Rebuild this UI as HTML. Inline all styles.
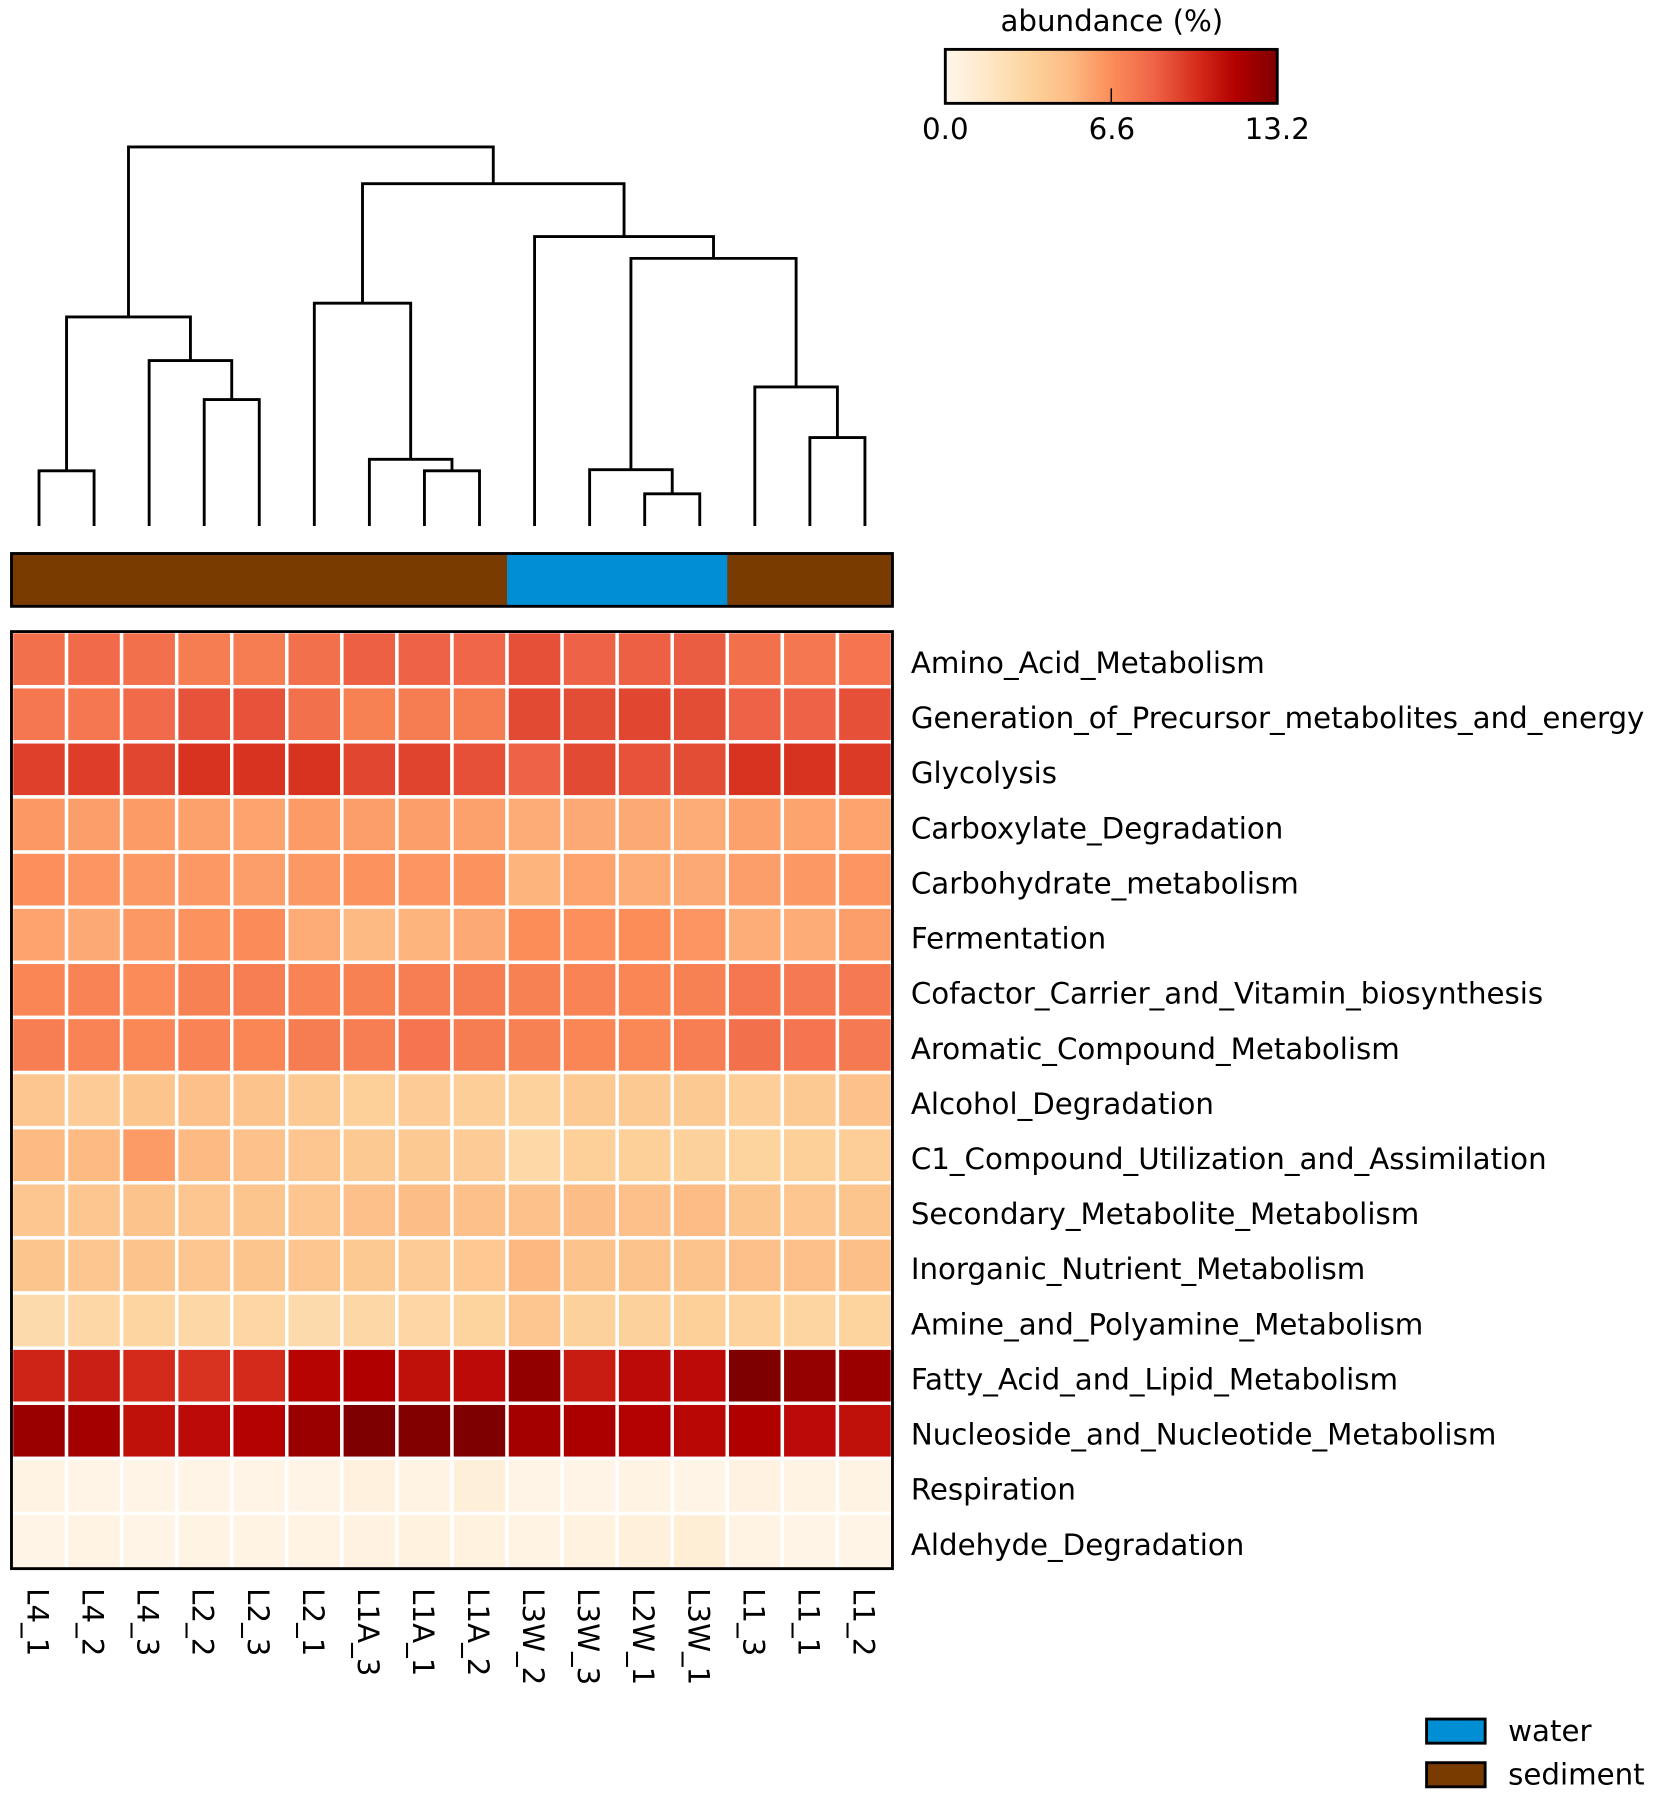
<!DOCTYPE html>
<html><head><meta charset="utf-8"><style>
html,body{margin:0;padding:0;background:#fff;}
svg{display:block;font-family:"DejaVu Sans","Liberation Sans",sans-serif;}
</style></head><body>
<svg id="chart" width="1654" height="1796" viewBox="0 0 1440 1564" preserveAspectRatio="none" xmlns="http://www.w3.org/2000/svg">
<g id="dendro"></g>
<g id="annot"></g>
<g id="cells"></g>
<g id="rowlabels"></g>
<g id="collabels"></g>
<g>
  <defs><linearGradient id="cbg" x1="0" x2="1" y1="0" y2="0">
    <stop offset="0" stop-color="#fff7ec"/><stop offset="0.125" stop-color="#fee8c8"/>
    <stop offset="0.25" stop-color="#fdd49e"/><stop offset="0.375" stop-color="#fdbb84"/>
    <stop offset="0.5" stop-color="#fc8d59"/><stop offset="0.625" stop-color="#ef6548"/>
    <stop offset="0.75" stop-color="#d7301f"/><stop offset="0.875" stop-color="#b30000"/>
    <stop offset="1" stop-color="#7f0000"/></linearGradient></defs>
  <text x="968" y="27" font-size="25.5" text-anchor="middle">abundance (%)</text>
  <rect x="823" y="43" width="289" height="47" fill="url(#cbg)" stroke="#000" stroke-width="2.5"/>
  <line x1="967.5" x2="967.5" y1="77" y2="90" stroke="#000" stroke-width="1.3"/>
  <text x="823" y="121" font-size="25.5" text-anchor="middle">0.0</text>
  <text x="968" y="121" font-size="25.5" text-anchor="middle">6.6</text>
  <text x="1112" y="121" font-size="25.5" text-anchor="middle">13.2</text>
</g>
<g>
  <rect x="1242" y="1497" width="51" height="21" fill="#008fd5" stroke="#000" stroke-width="2.5"/>
  <text x="1313" y="1516" font-size="25.5">water</text>
  <rect x="1242" y="1535" width="51" height="21" fill="#7a3b00" stroke="#000" stroke-width="2.5"/>
  <text x="1313" y="1554" font-size="25.5">sediment</text>
</g>
</svg>
<script>
const samples = ["L4_1","L4_2","L4_3","L2_2","L2_3","L2_1","L1A_3","L1A_1","L1A_2","L3W_2","L3W_3","L2W_1","L3W_1","L1_3","L1_1","L1_2"];
const groups = ["sediment","sediment","sediment","sediment","sediment","sediment","sediment","sediment","sediment","water","water","water","water","sediment","sediment","sediment"];
const pathways = ["Amino_Acid_Metabolism","Generation_of_Precursor_metabolites_and_energy","Glycolysis","Carboxylate_Degradation","Carbohydrate_metabolism","Fermentation","Cofactor_Carrier_and_Vitamin_biosynthesis","Aromatic_Compound_Metabolism","Alcohol_Degradation","C1_Compound_Utilization_and_Assimilation","Secondary_Metabolite_Metabolism","Inorganic_Nutrient_Metabolism","Amine_and_Polyamine_Metabolism","Fatty_Acid_and_Lipid_Metabolism","Nucleoside_and_Nucleotide_Metabolism","Respiration","Aldehyde_Degradation"];
const rowAmino = [7.8,8.0,7.8,7.3,7.3,7.8,8.4,8.3,8.2,8.9,8.3,8.4,8.5,7.8,7.5,7.6];
const rowGeneration = [7.5,7.5,8.0,8.8,8.8,7.8,7.1,7.3,7.3,9.1,9.0,9.2,9.0,8.3,8.3,8.9];
const rowGlycolysis = [9.4,9.5,9.2,9.8,9.8,9.8,9.2,9.3,8.9,8.3,9.1,8.8,9.0,9.8,9.8,9.6];
const rowCarboxylate = [6.2,6.0,6.1,5.9,5.8,6.1,6.0,6.0,5.9,5.5,5.6,5.6,5.5,5.9,5.8,5.8];
const rowCarbohydrate = [6.5,6.3,6.2,6.2,6.0,6.2,6.4,6.3,6.4,5.2,5.8,5.5,5.6,6.0,6.2,6.3];
const rowFermentation = [5.8,5.6,6.2,6.4,6.7,5.5,5.0,5.2,5.6,6.6,6.5,6.6,6.3,5.4,5.5,6.0];
const rowCofactor = [6.9,7.0,6.7,7.1,7.2,7.0,7.1,7.2,7.3,7.1,7.0,6.9,7.1,7.5,7.4,7.4];
const rowAromatic = [7.2,7.0,6.8,7.0,6.9,7.3,7.2,7.6,7.3,7.1,6.9,6.8,7.2,7.8,7.6,7.4];
const rowAlcohol = [4.2,3.9,4.3,4.6,4.4,4.0,3.6,3.8,3.7,3.4,4.0,4.0,4.0,3.7,4.0,4.5];
const rowC1 = [5.0,5.0,6.1,5.0,4.5,4.2,4.0,4.0,3.9,2.9,3.6,3.6,3.5,3.3,3.6,3.7];
const rowSecondary = [4.2,4.2,4.4,4.2,4.3,4.2,4.6,4.8,4.6,4.5,4.8,4.6,4.9,4.3,4.2,4.3];
const rowInorganic = [4.3,4.2,4.4,4.2,4.3,4.2,4.0,3.9,4.1,5.1,4.4,4.4,4.4,4.6,4.6,4.7];
const rowAmine = [2.8,3.0,3.2,3.0,3.1,2.8,3.0,3.1,3.3,4.2,3.5,3.5,3.6,3.4,3.2,3.3];
const rowFatty = [10.3,10.5,10.1,9.8,10.1,11.4,11.6,11.0,11.2,12.6,10.6,11.2,11.2,13.2,12.5,12.3];
const rowNucleoside = [12.3,12.0,11.0,11.2,11.5,12.3,13.2,13.1,13.2,12.0,11.8,11.5,11.3,11.6,11.2,11.0];
const rowRespiration = [0.4,0.3,0.3,0.3,0.3,0.3,0.7,0.4,0.9,0.3,0.3,0.4,0.3,0.5,0.4,0.4];
const rowAldehyde = [0.3,0.4,0.3,0.4,0.4,0.4,0.5,0.6,0.6,0.4,0.6,0.8,1.0,0.4,0.3,0.3];
const values = [rowAmino,rowGeneration,rowGlycolysis,rowCarboxylate,rowCarbohydrate,rowFermentation,rowCofactor,rowAromatic,rowAlcohol,rowC1,rowSecondary,rowInorganic,rowAmine,rowFatty,rowNucleoside,rowRespiration,rowAldehyde];
// dendrogram merges: [left, right, distance]; leaf ids 0..15, cluster ids 16+
const mergeLeft = [0,3,2,16,7,6,5,11,10,14,13,24,9,22,19];
const mergeRight = [1,4,17,18,8,20,21,12,23,15,25,26,27,28,29];
const mergeHeight = [48,110,144,182,48,58,194,28,49,77,121,233,252,298,330];
const vmin = 0, vmax = 13.2;

const NS="http://www.w3.org/2000/svg";
const HX0=10, HX1=777, HY0=550, HY1=1366;
const cw=(HX1-HX0)/samples.length, rh=(HY1-HY0)/pathways.length;
const xCenter=i=>HX0+cw*(i+0.5);
const dendBase=458;
const yDend=h=>dendBase-h;
const stops=["#fff7ec","#fee8c8","#fdd49e","#fdbb84","#fc8d59","#ef6548","#d7301f","#b30000","#7f0000"];
function hex(c){return [1,3,5].map(i=>parseInt(c.substr(i,2),16));}
function color(v){let t=Math.max(0,Math.min(1,(v-vmin)/(vmax-vmin)))*(stops.length-1);let i=Math.min(Math.floor(t),stops.length-2);let f=t-i;const a=hex(stops[i]),b=hex(stops[i+1]);return "rgb("+a.map((x,k)=>Math.round(x+(b[k]-x)*f)).join(",")+")";}
function mk(tag,attrs,parent){const e=document.createElementNS(NS,tag);for(const k in attrs)e.setAttribute(k,attrs[k]);parent.appendChild(e);return e;}

const cells=document.getElementById('cells');
values.forEach((row,r)=>row.forEach((v,c)=>{
  const e=mk('rect',{x:HX0+c*cw,y:HY0+r*rh,width:cw,height:rh,fill:color(v),stroke:'#fff','stroke-width':3},cells);
  
  
}));
const hb=mk('rect',{x:HX0,y:HY0,width:HX1-HX0,height:HY1-HY0,fill:'none',stroke:'#000','stroke-width':2.5},cells);



const rl=document.getElementById('rowlabels');
pathways.forEach((p,r)=>{const t=mk('text',{x:793,y:HY0+rh*(r+0.5)+12,'font-size':25.5},rl);t.textContent=p;
  
  });
const cl=document.getElementById('collabels');
samples.forEach((s,c)=>{const x=xCenter(c)-10;const t=mk('text',{x:0,y:0,'font-size':25.5,transform:'translate('+x+',1383) rotate(90)'},cl);t.textContent=s;
  
  });

const an=document.getElementById('annot');
groups.forEach((g,c)=>{const e=mk('rect',{x:HX0+c*cw,y:482,width:cw+0.5,height:46,fill:g==='water'?'#008fd5':'#7a3b00'},an);
  
  });
const ab=mk('rect',{x:HX0,y:482,width:HX1-HX0,height:46,fill:'none',stroke:'#000','stroke-width':2.5},an);



const dg=document.getElementById('dendro');
const nodeX=samples.map((s,i)=>xCenter(i)), nodeH=samples.map(()=>0);
mergeLeft.forEach((l,k)=>{const r=mergeRight[k],h=mergeHeight[k];
  const x1=nodeX[l],x2=nodeX[r],y=yDend(h);
  const e=mk('path',{d:`M${x1},${yDend(nodeH[l])}V${y}H${x2}V${yDend(nodeH[r])}`,fill:'none',stroke:'#000','stroke-width':2.5},dg);
  
  
  nodeX.push((x1+x2)/2);nodeH.push(h);});
</script>
</body></html>
